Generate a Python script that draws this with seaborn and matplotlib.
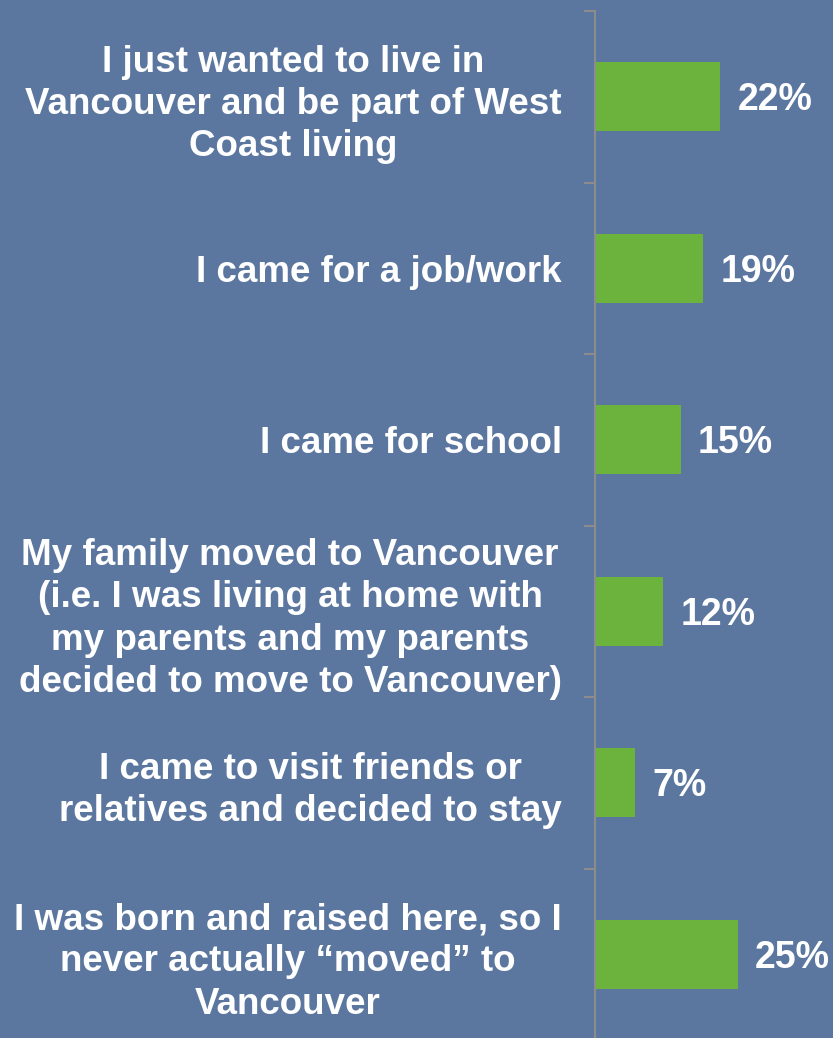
import matplotlib
matplotlib.use("Agg")
import matplotlib.pyplot as plt
import seaborn as sns
import pandas as pd
import numpy as np

sns.set_theme(style="white")
plt.rcParams["font.family"] = ["Liberation Sans", "DejaVu Sans"]

BG = "#5B77A0"
GREEN = "#6CB33E"

reasons = [
    "I just wanted to live in\nVancouver and be part of West\nCoast living",
    "I came for a job/work",
    "I came for school",
    "My family moved to Vancouver\n(i.e. I was living at home with\nmy parents and my parents\ndecided to move to Vancouver)",
    "I came to visit friends or\nrelatives and decided to stay",
    "I was born and raised here, so I\nnever actually \u201cmoved\u201d to\nVancouver",
]
shares = [22, 19, 15, 12, 7, 25]

df = pd.DataFrame({"reason": reasons, "share": shares})

fig = plt.figure(figsize=(8.33, 10.38), dpi=100, facecolor=BG)
ax = fig.add_axes([595 / 833, 1 - 1040 / 1038, 228 / 833, 1029 / 1038])
ax.set_facecolor(BG)

sns.barplot(data=df, x="share", y="reason", color=GREEN, width=0.4,
            saturation=1, linewidth=0, ax=ax)

ax.set_xlim(0, 40)
ax.set_ylim(5.5, -0.5)
ax.set_xlabel("")
ax.set_ylabel("")
ax.set_xticks([])

for s in ["top", "right", "bottom"]:
    ax.spines[s].set_visible(False)
ax.spines["left"].set_color("#8C8C8C")
ax.spines["left"].set_linewidth(1.5)

ax.set_yticks(np.arange(len(reasons)))
ax.set_yticklabels(reasons, fontsize=26.5, fontweight="bold", color="white",
                   multialignment="center", linespacing=1.27)
ax.tick_params(axis="y", which="major", left=False, length=0, pad=24)
ax.set_yticks(np.arange(len(reasons) + 1) - 0.5, minor=True)
ax.tick_params(axis="y", which="minor", left=True, length=8, width=1.5,
               color="#8C8C8C", direction="out")

for i, v in enumerate(shares):
    ax.text(v + 3, i + 0.02, f"{v}%", va="center", ha="left", fontsize=27,
            fontweight="bold", color="white")

fig.savefig("out.png", dpi=100, facecolor=BG)
